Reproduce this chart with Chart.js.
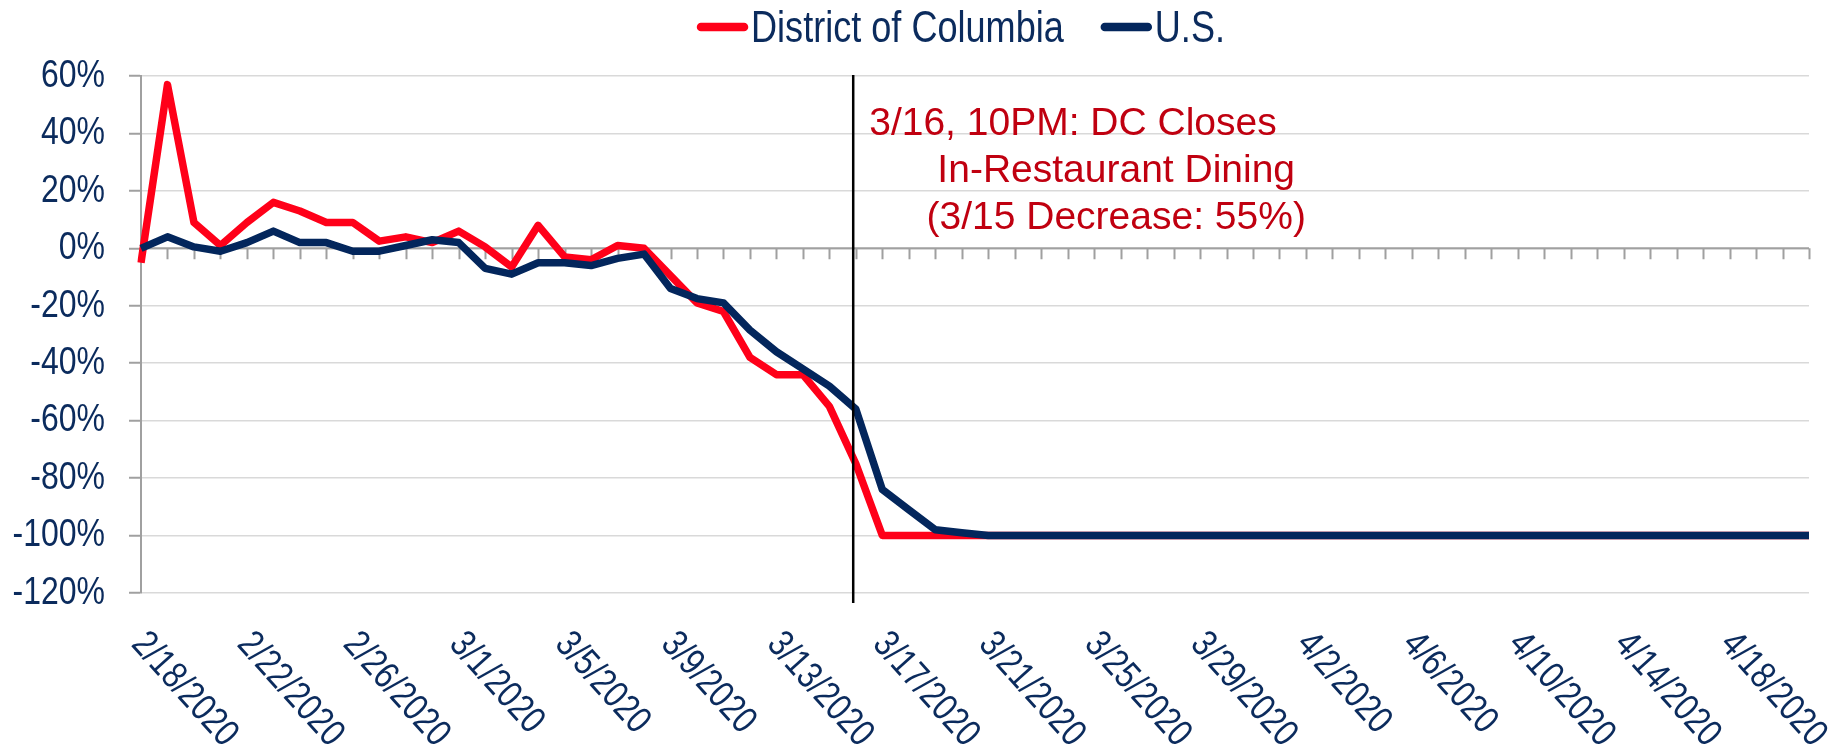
<!DOCTYPE html>
<html><head><meta charset="utf-8">
<script src="https://cdn.jsdelivr.net/npm/chart.js@4.4.1/dist/chart.umd.min.js"></script>
<style>html,body{margin:0;padding:0;background:#fff;overflow:hidden}#wrap{width:1845px;height:753px}</style>
</head><body><div id="wrap"><canvas id="c" width="1845" height="753"></canvas></div>
<script>
const dates = [
  '2/18/2020','2/19/2020','2/20/2020','2/21/2020','2/22/2020','2/23/2020','2/24/2020','2/25/2020','2/26/2020','2/27/2020','2/28/2020','2/29/2020',
  '3/1/2020','3/2/2020','3/3/2020','3/4/2020','3/5/2020','3/6/2020','3/7/2020','3/8/2020','3/9/2020','3/10/2020','3/11/2020','3/12/2020',
  '3/13/2020','3/14/2020','3/15/2020','3/16/2020','3/17/2020','3/18/2020','3/19/2020','3/20/2020','3/21/2020','3/22/2020','3/23/2020','3/24/2020',
  '3/25/2020','3/26/2020','3/27/2020','3/28/2020','3/29/2020','3/30/2020','3/31/2020',
  '4/1/2020','4/2/2020','4/3/2020','4/4/2020','4/5/2020','4/6/2020','4/7/2020','4/8/2020','4/9/2020','4/10/2020','4/11/2020','4/12/2020',
  '4/13/2020','4/14/2020','4/15/2020','4/16/2020','4/17/2020','4/18/2020','4/19/2020','4/20/2020','4/21/2020'
];
const seriesNames = ['District of Columbia', 'U.S.'];
const dcValues = [
  -5, 57, 9, 1, 9, 16, 13, 9, 9, 2.5, 4, 2,
  6, 0.5, -6.5, 8, -3, -4, 1, 0, -9.5, -19, -22, -38,
  -44, -44, -55, -75, -100, -100, -100, -100, -100, -100, -100, -100,
  -100, -100, -100, -100, -100, -100, -100,
  -100, -100, -100, -100, -100, -100, -100, -100, -100, -100, -100, -100,
  -100, -100, -100, -100, -100, -100, -100, -100, -100
];
const usValues = [
  0, 4, 0.5, -1, 2, 6, 2, 2, -1, -1, 1, 3,
  2, -7, -9, -5, -5, -6, -3.5, -2, -14, -17.5, -19, -28.5,
  -36, -42, -48, -56, -84, -91, -98, -99, -100, -100, -100, -100,
  -100, -100, -100, -100, -100, -100, -100,
  -100, -100, -100, -100, -100, -100, -100, -100, -100, -100, -100, -100,
  -100, -100, -100, -100, -100, -100, -100, -100, -100
];
const yMin = -120, yMax = 60, yStep = 20;
const xLabelEvery = 4;
const eventPosition = 26.9; // late 3/15 – 3/16 (category index)
const eventText = ['3/16, 10PM: DC Closes', 'In-Restaurant Dining', '(3/15 Decrease: 55%)'];

const FONT = "'Liberation Sans',Arial,sans-serif";
const NARROW = 0.82; // horizontal condensing (Arial Narrow look)
const TEXT_NAVY = '#0b2b5d';
const NAVY = '#03265c';
const RED = '#ff0019';
const ANN_RED = '#c00010';
const AXIS_GRAY = '#a0a0a0';

function narrowText(ctx, text, x, y, align, rot) {
  ctx.save();
  ctx.translate(x, y);
  if (rot) ctx.rotate(rot);
  ctx.scale(NARROW, 1);
  ctx.textAlign = align;
  ctx.fillText(text, 0, 0);
  ctx.restore();
}

const customDraw = {
  id: 'customDraw',
  beforeDatasetsDraw(chart) {
    const {ctx, chartArea, scales: {x, y}} = chart;
    const y0 = y.getPixelForValue(0);
    ctx.save();
    ctx.strokeStyle = AXIS_GRAY;
    ctx.lineWidth = 2;
    ctx.beginPath();
    ctx.moveTo(chartArea.left, y0);
    ctx.lineTo(chartArea.right, y0);
    for (let i = 0; i < dates.length; i++) {
      const px = Math.round(x.getPixelForValue(i)) + 0.5;
      ctx.moveTo(px, y0);
      ctx.lineTo(px, y0 + 11);
    }
    ctx.stroke();
    ctx.restore();
  },
  afterDatasetsDraw(chart) {
    const {ctx, chartArea, scales: {x}} = chart;
    const vx = x.getPixelForValue(eventPosition);
    ctx.save();
    ctx.strokeStyle = '#000';
    ctx.lineWidth = 2.5;
    ctx.beginPath();
    ctx.moveTo(vx, chartArea.top - 1);
    ctx.lineTo(vx, chartArea.bottom + 10);
    ctx.stroke();
    ctx.fillStyle = ANN_RED;
    ctx.font = '39px ' + FONT;
    ctx.textBaseline = 'alphabetic';
    ctx.textAlign = 'left';
    ctx.fillText(eventText[0], vx + 16, chartArea.top + 59);
    ctx.textAlign = 'center';
    ctx.fillText(eventText[1], vx + 263, chartArea.top + 106);
    ctx.fillText(eventText[2], vx + 263, chartArea.top + 153);
    ctx.restore();
  },
  afterDraw(chart) {
    const {ctx, chartArea, scales: {x, y}} = chart;
    ctx.save();
    ctx.fillStyle = TEXT_NAVY;
    ctx.font = '39px ' + FONT;
    // y tick labels
    ctx.textBaseline = 'middle';
    y.ticks.forEach(t => {
      narrowText(ctx, t.value + '%', chartArea.left - 36, y.getPixelForValue(t.value), 'right');
    });
    // x tick labels, rotated
    ctx.font = '38px ' + FONT;
    for (let i = 0; i < dates.length; i += xLabelEvery) {
      narrowText(ctx, dates[i], x.getPixelForValue(i) - 3, chartArea.bottom + 45, 'left', 48 * Math.PI / 180);
    }
    // legend
    const ds = chart.data.datasets;
    ctx.font = '44px ' + FONT;
    ctx.textBaseline = 'alphabetic';
    const sw = 51, gap = 3, itemGap = 37;
    const widths = ds.map(d => ctx.measureText(d.label).width * NARROW);
    const total = widths.reduce((a, w) => a + sw + gap + w, 0) + itemGap * (ds.length - 1);
    let lx = (chartArea.left + chartArea.right) / 2 - 14 - total / 2;
    ds.forEach((d, k) => {
      ctx.strokeStyle = d.borderColor;
      ctx.lineWidth = 8.5;
      ctx.lineCap = 'round';
      ctx.beginPath();
      ctx.moveTo(lx + 4, 27);
      ctx.lineTo(lx + sw - 4, 27);
      ctx.stroke();
      ctx.fillStyle = TEXT_NAVY;
      narrowText(ctx, d.label, lx + sw + gap, 42, 'left');
      lx += sw + gap + widths[k] + itemGap;
    });
    ctx.restore();
  }
};

new Chart(document.getElementById('c'), {
  type: 'line',
  data: {
    labels: dates,
    datasets: [
      {label: seriesNames[0], data: dcValues, borderColor: RED, backgroundColor: RED, borderWidth: 7.5,
       pointRadius: 0, tension: 0, borderJoinStyle: 'round', order: 1},
      {label: seriesNames[1], data: usValues, borderColor: NAVY, backgroundColor: NAVY, borderWidth: 7.5,
       pointRadius: 0, tension: 0, borderJoinStyle: 'round', order: 0}
    ]
  },
  options: {
    responsive: false,
    animation: false,
    devicePixelRatio: 1,
    layout: {padding: {top: 76, right: 36, left: 0, bottom: 0}},
    plugins: {legend: {display: false}, tooltip: {enabled: false}},
    scales: {
      x: {
        type: 'category', offset: false,
        grid: {display: false}, border: {display: false}, ticks: {display: false},
        afterFit(s) { s.height = 160; }
      },
      y: {
        min: yMin, max: yMax,
        ticks: {stepSize: yStep, display: false},
        grid: {color: '#d9d9d9', lineWidth: 1.5, tickLength: 12, tickColor: AXIS_GRAY, tickWidth: 2},
        border: {display: true, color: AXIS_GRAY, width: 2},
        afterFit(s) { s.width = 141; }
      }
    }
  },
  plugins: [customDraw]
});
</script>
</body></html>
